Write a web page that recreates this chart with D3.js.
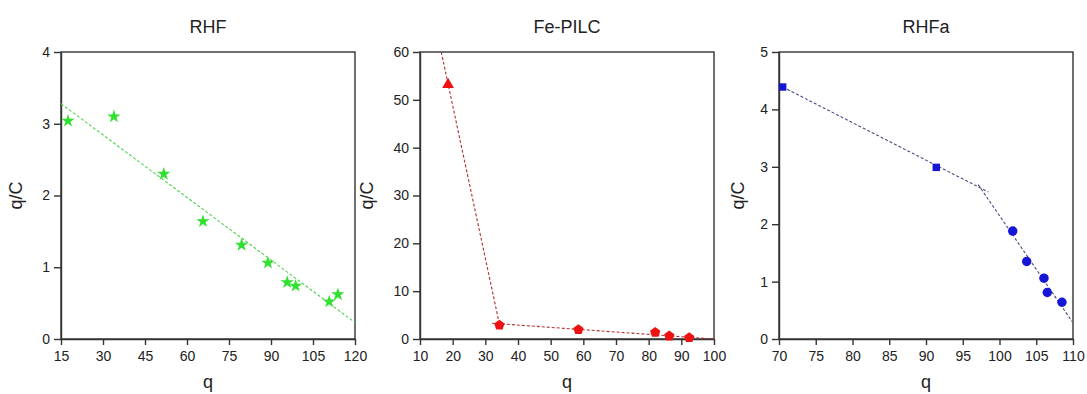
<!DOCTYPE html>
<meta charset="utf-8">
<style>
body { margin: 0; background: #fff; }
svg text { font-family: "Liberation Sans", Arial, sans-serif; fill: #222; }
.axis path, .axis line { stroke: #333; stroke-width: 1.4; }
.frame { fill: none; stroke: #333; stroke-width: 1.4; }
</style>
<svg width="1087" height="394"></svg>
<script src="https://d3js.org/d3.v7.min.js"></script>
<script>
"use strict";

// RHF
var rhfQ  = [17.5, 33.9, 51.7, 65.7, 79.5, 88.9, 95.8, 98.8, 110.8, 113.9];
var rhfQC = [3.04, 3.10, 2.30, 1.64, 1.31, 1.06, 0.79, 0.74, 0.52, 0.62];
var rhfFitQ  = [15, 120];
var rhfFitQC = [3.28, 0.23];
var rhfXTicks = [15, 30, 45, 60, 75, 90, 105, 120];
var rhfYTicks = [0, 1, 2, 3, 4];

// Fe-PILC
var feTriQ  = [18.6];
var feTriQC = [53.2];
var fePentQ  = [34.3, 58.5, 82.0, 86.3, 92.4];
var fePentQC = [2.9, 1.95, 1.39, 0.63, 0.28];
var feLine1Q  = [16.5, 34.5];
var feLine1QC = [60, 2.5];
var feLine2Q  = [32, 100];
var feLine2QC = [3.3, 0];
var feXTicks = [10, 20, 30, 40, 50, 60, 70, 80, 90, 100];
var feYTicks = [0, 10, 20, 30, 40, 50, 60];

// RHFa
var rhfaSqQ  = [70.5, 91.4];
var rhfaSqQC = [4.39, 2.99];
var rhfaCircQ  = [101.8, 103.7, 106.05, 106.5, 108.5];
var rhfaCircQC = [1.88, 1.35, 1.06, 0.81, 0.64];
var rhfaLine1Q  = [70.5, 98.5];
var rhfaLine1QC = [4.39, 2.56];
var rhfaLine2Q  = [97.1, 109.9];
var rhfaLine2QC = [2.69, 0.30];
var rhfaXTicks = [70, 75, 80, 85, 90, 95, 100, 105, 110];
var rhfaYTicks = [0, 1, 2, 3, 4, 5];

var svg = d3.select("svg");

// no pentagon in d3, so a small custom one
var symbolPentagon = {
  draw: function(ctx, size) {
    var r = Math.sqrt(size / 2.378);
    for (var i = 0; i < 5; i++) {
      var a = -Math.PI / 2 + i * 2 * Math.PI / 5;
      if (i == 0) ctx.moveTo(r * Math.cos(a), r * Math.sin(a));
      else ctx.lineTo(r * Math.cos(a), r * Math.sin(a));
    }
    ctx.closePath();
  }
};

function zip(a, b) {
  return a.map(function(v, i) { return [v, b[i]]; });
}

function panel(opt) {
  var left = opt.left, top = 52, w = 294, h = 287;
  var g = svg.append("g").attr("transform", "translate(" + left + "," + top + ")");

  var x = d3.scaleLinear().domain(opt.xDomain).range([0, w]);
  var y = d3.scaleLinear().domain(opt.yDomain).range([h, 0]);

  g.append("rect").attr("class", "frame").attr("width", w).attr("height", h);

  var xa = g.append("g").attr("class", "axis")
      .attr("transform", "translate(0," + h + ")")
      .call(d3.axisBottom(x).tickValues(opt.xTicks).tickFormat(d3.format("d"))
        .tickSize(6).tickPadding(6).tickSizeOuter(0));
  var ya = g.append("g").attr("class", "axis")
      .call(d3.axisLeft(y).tickValues(opt.yTicks).tickFormat(d3.format("d"))
        .tickSize(7).tickPadding(4).tickSizeOuter(0));
  xa.selectAll("text").style("font-size", "14px").style("fill", "#222");
  ya.selectAll("text").style("font-size", "14px").style("fill", "#222");

  g.append("text").attr("x", w / 2).attr("y", -19)
    .attr("text-anchor", "middle").style("font-size", "18px").text(opt.title);
  g.append("text").attr("x", w / 2).attr("y", h + 49)
    .attr("text-anchor", "middle").style("font-size", "18px").text("q");
  g.append("text")
    .attr("transform", "translate(" + opt.yLabelX + "," + (h / 2) + ") rotate(-90)")
    .attr("text-anchor", "middle").style("font-size", "18px").text("q/C");

  var line = d3.line().x(function(d) { return x(d[0]); }).y(function(d) { return y(d[1]); });
  opt.lines.forEach(function(l) {
    g.append("path").datum(l)
      .attr("d", line)
      .attr("fill", "none")
      .attr("stroke", opt.lineColor)
      .attr("stroke-width", 1.1)
      .attr("stroke-dasharray", "3,2");
  });

  opt.marks.forEach(function(m) {
    g.selectAll(null).data(m.pts).enter().append("path")
      .attr("transform", function(d) { return "translate(" + x(d[0]) + "," + y(d[1]) + ")"; })
      .attr("d", d3.symbol().type(m.type).size(m.size))
      .attr("fill", opt.markColor);
  });
}

panel({
  left: 61, title: "RHF", yLabelX: -39,
  xDomain: [15, 120], yDomain: [0, 4], xTicks: rhfXTicks, yTicks: rhfYTicks,
  lineColor: "#4fd14f", markColor: "#2fe02f",
  lines: [zip(rhfFitQ, rhfFitQC)],
  marks: [{ pts: zip(rhfQ, rhfQC), type: d3.symbolStar, size: 55 }]
});

panel({
  left: 420, title: "Fe-PILC", yLabelX: -47,
  xDomain: [10, 100], yDomain: [0, 60], xTicks: feXTicks, yTicks: feYTicks,
  lineColor: "#b03030", markColor: "#ee1111",
  lines: [zip(feLine1Q, feLine1QC), zip(feLine2Q, feLine2QC)],
  marks: [
    { pts: zip(feTriQ, feTriQC), type: d3.symbolTriangle, size: 60 },
    { pts: zip(fePentQ, fePentQC), type: symbolPentagon, size: 70 }
  ]
});

panel({
  left: 779, title: "RHFa", yLabelX: -35,
  xDomain: [70, 110], yDomain: [0, 5], xTicks: rhfaXTicks, yTicks: rhfaYTicks,
  lineColor: "#4a4a80", markColor: "#1515d6",
  lines: [zip(rhfaLine1Q, rhfaLine1QC), zip(rhfaLine2Q, rhfaLine2QC)],
  marks: [
    { pts: zip(rhfaSqQ, rhfaSqQC), type: d3.symbolSquare, size: 55 },
    { pts: zip(rhfaCircQ, rhfaCircQC), type: d3.symbolCircle, size: 70 }
  ]
});
</script>
